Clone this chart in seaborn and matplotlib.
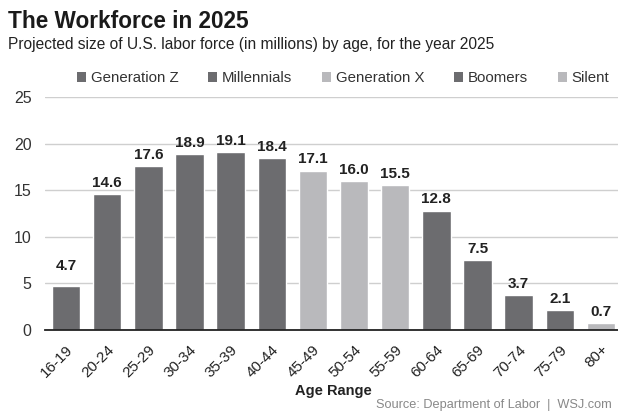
import matplotlib
matplotlib.use("Agg")
import matplotlib.pyplot as plt
import seaborn as sns
import pandas as pd
import numpy as np
from matplotlib.patches import Patch

ages = ["16-19", "20-24", "25-29", "30-34", "35-39", "40-44", "45-49", "50-54",
        "55-59", "60-64", "65-69", "70-74", "75-79", "80+"]
values = [4.7, 14.6, 17.6, 18.9, 19.1, 18.4, 17.1, 16.0, 15.5, 12.8, 7.5, 3.7, 2.1, 0.7]
generations = ["Generation Z", "Generation Z", "Millennials", "Millennials", "Millennials",
               "Millennials", "Generation X", "Generation X", "Generation X", "Boomers",
               "Boomers", "Boomers", "Boomers", "Silent"]
gen_order = ["Generation Z", "Millennials", "Generation X", "Boomers", "Silent"]

DARK = "#6c6c6f"
LIGHT = "#b9b9bc"
palette = {"Generation Z": DARK, "Millennials": DARK, "Generation X": LIGHT,
           "Boomers": DARK, "Silent": LIGHT}

df = pd.DataFrame({"age": ages, "value": values, "gen": generations})

sns.set_theme(style="white")
plt.rcParams["font.family"] = ["Liberation Sans", "DejaVu Sans"]

fig = plt.figure(figsize=(6.18, 4.16), dpi=100)
ax = fig.add_axes([0.0736, 0.207, 0.932, 0.560])

sns.barplot(data=df, x="age", y="value", hue="gen", hue_order=gen_order,
            palette=palette, dodge=False, width=0.69, ax=ax, legend=False,
            order=ages, saturation=1)

for c in ax.containers:
    labels = [f"{v:.1f}" if not np.isnan(v) else "" for v in c.datavalues]
    anns = ax.bar_label(c, labels=labels, padding=3, fontsize=11, fontweight="bold",
                        color="#222222")
    for a in anns:
        if a.get_text() == "4.7":
            a.xyann = (0, 9.5)

ax.set_ylim(0, 25)
ax.set_xlim(-0.5, len(ages) - 0.5)
ax.set_yticks([0, 5, 10, 15, 20, 25])
ax.yaxis.grid(True, color="#cfcfcf", linewidth=1.0)
ax.set_axisbelow(True)
for s in ["left", "right", "top"]:
    ax.spines[s].set_visible(False)
ax.spines["bottom"].set_color("#222222")
ax.spines["bottom"].set_linewidth(1.3)

ax.set_xticks(range(len(ages)))
ax.set_xticklabels(ages, rotation=45, ha="right", rotation_mode="anchor")
ax.set_xticks(np.arange(-0.5, len(ages), 1.0), minor=True)
ax.tick_params(axis="x", which="major", length=0, pad=9, labelsize=11, labelcolor="#222222")
ax.tick_params(axis="x", which="minor", length=5, width=1.3, direction="inout", color="#222222")
ax.tick_params(axis="y", length=0, pad=10, labelsize=11.5, labelcolor="#333333")

ax.set_xlabel("Age Range", fontsize=10.5, fontweight="bold", color="#222222", labelpad=3)
ax.set_ylabel("")

handles = [Patch(facecolor=palette[g], edgecolor="none") for g in gen_order]
fig.legend(handles, gen_order, loc="center", bbox_to_anchor=(0.555, 0.812), ncol=5,
           frameon=False, fontsize=10.8, handlelength=0.6, handleheight=0.6,
           handletextpad=0.3, columnspacing=2.0, labelcolor="#333333")

fig.text(0.013, 0.975, "The Workforce in 2025", fontsize=16.3, fontweight="bold",
         color="#1a1a1a", va="top", ha="left")
fig.text(0.013, 0.912, "Projected size of U.S. labor force (in millions) by age, for the year 2025",
         fontsize=11.2, color="#222222", va="top", ha="left")
fig.text(0.99, 0.012, "Source: Department of Labor  |  WSJ.com", fontsize=9.2,
         color="#888888", va="bottom", ha="right")

fig.savefig("out.png", dpi=100, facecolor="white")
